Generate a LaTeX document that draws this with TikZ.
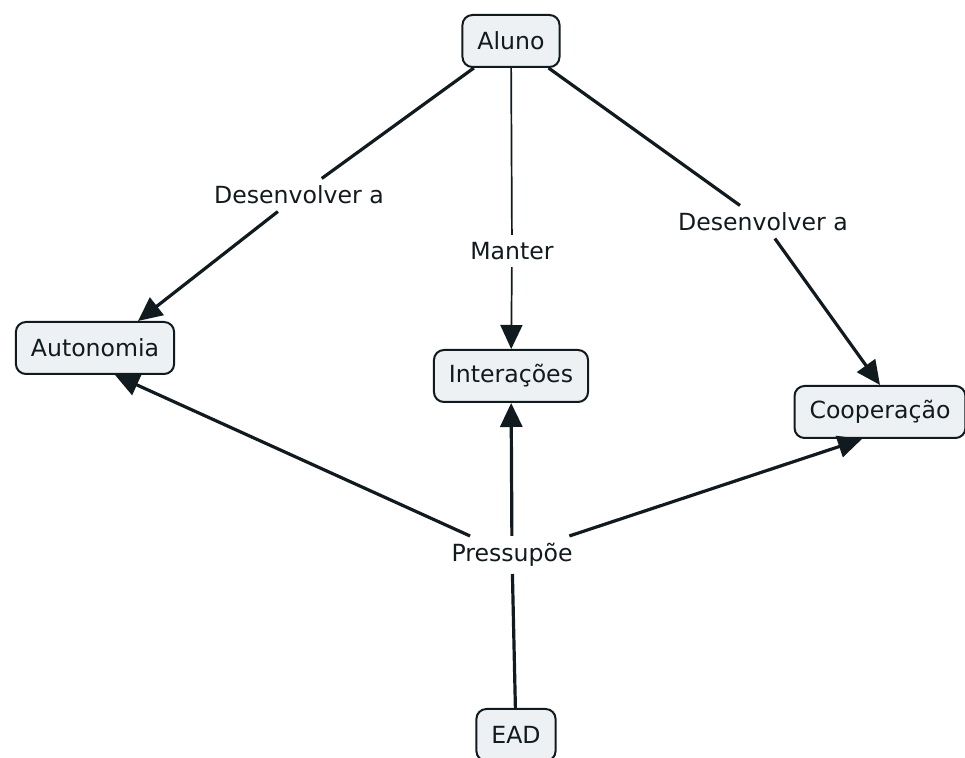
\documentclass[tikz,border=0pt]{standalone}
\usepackage{fontspec}
\setmainfont{DejaVu Sans}
\usetikzlibrary{arrows.meta}
\definecolor{boxfill}{HTML}{EDF1F3}
\definecolor{ink}{HTML}{111A1E}
\tikzset{%
  concept/.style={draw=ink, line width=1pt, fill=boxfill, rounded corners=5pt,
                  minimum height=26pt, inner xsep=7.5pt, text=ink,
                  font=\fontsize{11.8}{14}\selectfont},
  linkword/.style={inner xsep=2pt, inner ysep=3.5pt, text=ink,
                   font=\fontsize{11.8}{14}\selectfont},
  link/.style={draw=ink, line width=1.6pt},
  thinlink/.style={draw=ink, line width=0.85pt},
  tip/.style={-{Triangle[length=12pt, width=11pt]}},
}

\begin{document}
\begin{tikzpicture}[x=0.5pt, y=-0.5pt]
    \useasboundingbox (0,0) rectangle (965,758);

    % concepts
    \node[concept] (aluno) at (511,41) {Aluno};
    \node[concept] (autonomia) at (95,348) {Autonomia};
    \node[concept] (interacoes) at (511,376) {Interações};
    \node[concept] (cooperacao) at (880,412) {Cooperação};
    \node[concept] (ead) at (516,735) {EAD};

    % linking words
    \node[linkword] (desenvA) at (299,195) {Desenvolver a};
    \node[linkword] (manter) at (512,251) {Manter};
    \node[linkword] (desenvB) at (763,222) {Desenvolver a};
    \node[linkword] (pressupoe) at (512,555) {Pressupõe};

    %links from Aluno
    \draw[link] (aluno) -- (desenvA);
    \draw[link, tip] (desenvA) -- ([xshift=21.5pt]autonomia.north);
    \draw[thinlink] (aluno) -- (manter);
    \draw[thinlink, tip] (manter) -- (interacoes);
    \draw[link] (aluno) -- (desenvB);
    \draw[link, tip] (desenvB) -- (cooperacao.north);

    %links from EAD
    \draw[link] (ead) -- (pressupoe);
    \draw[link, tip] (pressupoe) -- ([xshift=10pt]autonomia.south);
    \draw[link, tip] (pressupoe) -- (interacoes);
    \draw[link, tip] (pressupoe) -- ([xshift=-9pt]cooperacao.south);

\end{tikzpicture}
\end{document}
